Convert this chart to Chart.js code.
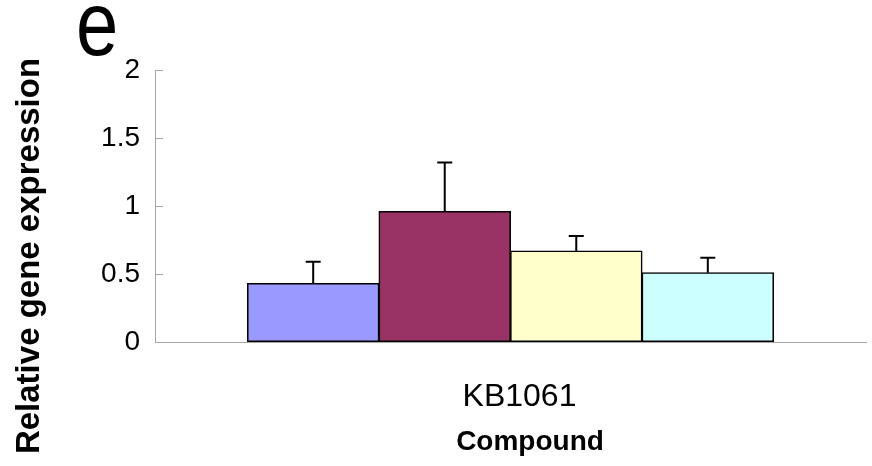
<!DOCTYPE html>
<html>
<head>
<meta charset="utf-8">
<script src="https://cdn.jsdelivr.net/npm/chart.js@4.4.0/dist/chart.umd.min.js"></script>
<style>
  html, body { margin: 0; padding: 0; background: #fff; }
  #wrap { width: 872px; height: 466px; }
</style>
</head>
<body>
<div id="wrap"><canvas id="chart" width="872" height="466"></canvas></div>
<script>
const categories = ['KB1061'];
const seriesNames = ['Series 1', 'Series 2', 'Series 3', 'Series 4'];
const seriesValues = [0.43, 0.96, 0.67, 0.51];
const seriesErrors = [0.16, 0.36, 0.11, 0.11];
const seriesColors = ['#9999ff', '#993366', '#ffffcc', '#ccffff'];
const yTicks = [0, 0.5, 1, 1.5, 2];

const FONT = '"Liberation Sans", Arial, sans-serif';
const AXIS_GRAY = '#a6a6a6';

// error bars, drawn on top of each bar from the y scale
const errorBars = {
  id: 'errorBars',
  afterDatasetsDraw(chart) {
    const ctx = chart.ctx;
    const y = chart.scales.y;
    ctx.save();
    ctx.strokeStyle = '#000';
    ctx.lineWidth = 2;
    chart.data.datasets.forEach((ds, i) => {
      const meta = chart.getDatasetMeta(i);
      meta.data.forEach((bar, j) => {
        const top = y.getPixelForValue(ds.data[j] + seriesErrors[i]);
        ctx.beginPath();
        ctx.moveTo(bar.x, bar.y);
        ctx.lineTo(bar.x, top);
        ctx.moveTo(bar.x - 7.5, top);
        ctx.lineTo(bar.x + 7.5, top);
        ctx.stroke();
      });
    });
    ctx.restore();
  }
};

// y tick marks point into the plot, as in the original
const innerTicks = {
  id: 'innerTicks',
  afterDraw(chart) {
    const ctx = chart.ctx;
    const y = chart.scales.y;
    const x0 = chart.chartArea.left;
    ctx.save();
    ctx.strokeStyle = AXIS_GRAY;
    ctx.lineWidth = 1;
    y.ticks.forEach(t => {
      const py = Math.round(y.getPixelForValue(t.value)) + 0.5;
      ctx.beginPath();
      ctx.moveTo(x0, py);
      ctx.lineTo(x0 + 8, py);
      ctx.stroke();
    });
    ctx.restore();
  }
};

// panel letter and axis titles
const labels = {
  id: 'labels',
  afterDraw(chart) {
    const ctx = chart.ctx;
    ctx.save();
    ctx.fillStyle = '#000';
    ctx.textAlign = 'left';
    ctx.textBaseline = 'alphabetic';
    ctx.save();
    ctx.translate(76, 55);
    ctx.scale(1, 1.2);
    ctx.font = '76px ' + FONT;
    ctx.fillText('e', 0, 0);
    ctx.restore();

    ctx.font = 'bold 28px ' + FONT;
    ctx.textAlign = 'center';
    ctx.fillText('Compound', 530, 450);

    ctx.translate(39, 256);
    ctx.rotate(-Math.PI / 2);
    ctx.font = 'bold 33px ' + FONT;
    ctx.fillText('Relative gene expression', 0, 0);
    ctx.restore();
  }
};

new Chart(document.getElementById('chart'), {
  type: 'bar',
  data: {
    labels: categories,
    datasets: seriesNames.map((name, i) => ({
      label: name,
      data: [seriesValues[i]],
      backgroundColor: seriesColors[i],
      borderColor: '#000',
      borderWidth: 1.6,
      borderSkipped: false,
      inflateAmount: 0.5
    }))
  },
  options: {
    responsive: false,
    animation: false,
    events: [],
    layout: { padding: { top: 70, right: 6, left: 0, bottom: 0 } },
    categoryPercentage: 0.74,
    barPercentage: 1,
    plugins: {
      legend: { display: false },
      tooltip: { enabled: false }
    },
    scales: {
      x: {
        grid: { display: false, drawTicks: false },
        border: { display: true, color: AXIS_GRAY, width: 1 },
        ticks: { color: '#000', font: { family: FONT, size: 32 }, padding: 36, labelOffset: 9 },
        afterFit(scale) { scale.height = 124; }
      },
      y: {
        min: 0,
        max: 2,
        afterBuildTicks(scale) { scale.ticks = yTicks.map(v => ({ value: v })); },
        grid: { drawOnChartArea: false, drawTicks: false },
        border: { display: true, color: AXIS_GRAY, width: 1 },
        ticks: {
          color: '#000',
          font: { family: FONT, size: 28 },
          padding: 15,
          callback: v => String(v)
        },
        afterFit(scale) { scale.width = 155; }
      }
    }
  },
  plugins: [errorBars, innerTicks, labels]
});
</script>
</body>
</html>
